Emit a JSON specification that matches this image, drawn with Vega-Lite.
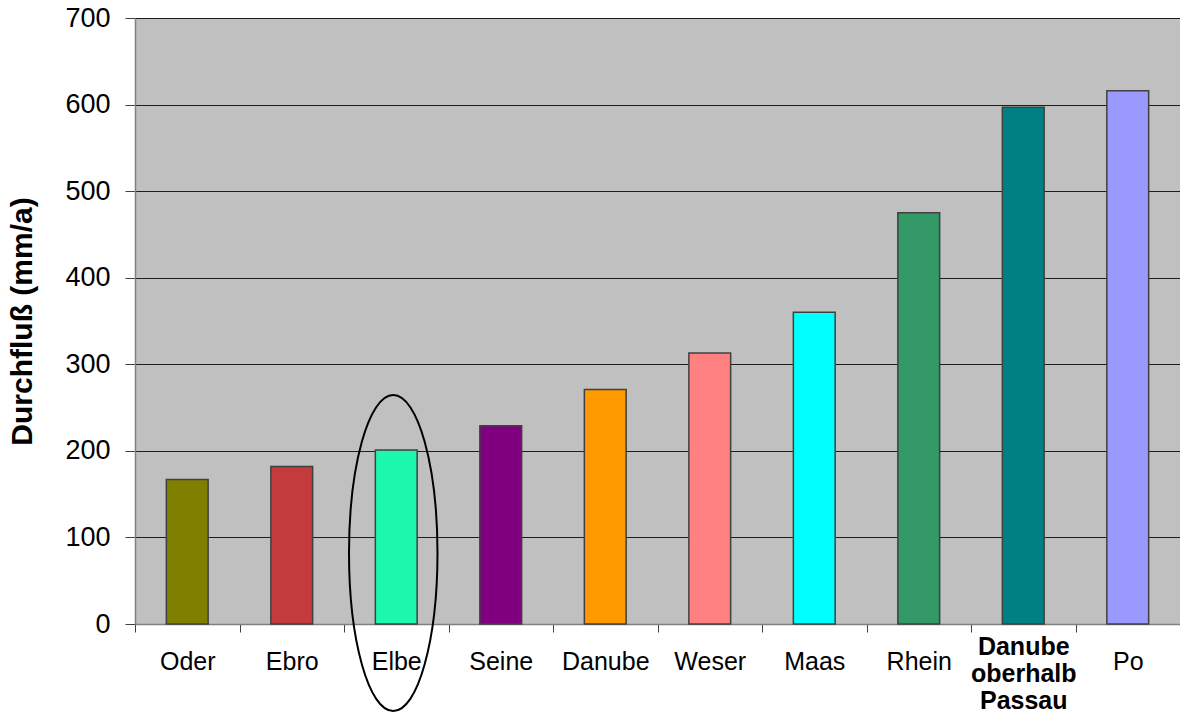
{
  "$schema": "https://vega.github.io/schema/vega-lite/v6.json",
  "width": 1045,
  "height": 606,
  "autosize": {"type": "none"},
  "padding": {"left": 135, "top": 18, "right": 0, "bottom": 96},
  "background": "#ffffff",
  "config": {
    "view": {"fill": "#c0c0c0", "stroke": null},
    "font": "Arial, Liberation Sans, sans-serif"
  },
  "datasets": {
    "rivers": [
      {"river": "Oder", "flow": 167, "colour": "#808000"},
      {"river": "Ebro", "flow": 182, "colour": "#c33b3c"},
      {"river": "Elbe", "flow": 201, "colour": "#1cf8ad"},
      {"river": "Seine", "flow": 229, "colour": "#800080"},
      {"river": "Danube", "flow": 271, "colour": "#ff9900"},
      {"river": "Weser", "flow": 313, "colour": "#ff8080"},
      {"river": "Maas", "flow": 360, "colour": "#00ffff"},
      {"river": "Rhein", "flow": 475, "colour": "#339966"},
      {"river": "Danube oberhalb Passau", "flow": 597, "colour": "#008080"},
      {"river": "Po", "flow": 616, "colour": "#9999ff"}
    ],
    "highlight": [
      {"river": "Elbe", "centre": 82}
    ]
  },
  "layer": [
    {
      "data": {"name": "rivers"},
      "mark": {"type": "bar", "width": {"band": 0.4}, "stroke": "#404040", "strokeWidth": 1.5},
      "encoding": {
        "x": {
          "field": "river",
          "type": "nominal",
          "scale": {
            "domain": ["Oder", "Ebro", "Elbe", "Seine", "Danube", "Weser", "Maas", "Rhein", "Danube oberhalb Passau", "Po"],
            "paddingInner": 0,
            "paddingOuter": 0
          },
          "axis": {
            "title": null,
            "labelAngle": 0,
            "labelFontSize": 25,
            "labelColor": "#000000",
            "labelPadding": {"condition": {"test": "datum.value == 'Danube oberhalb Passau'", "value": 2}, "value": 17},
            "labelLineHeight": 27,
            "labelBaseline": "top",
            "labelExpr": "datum.value == 'Danube oberhalb Passau' ? ['Danube', 'oberhalb', 'Passau'] : datum.value",
            "labelFontWeight": {"condition": {"test": "datum.value == 'Danube oberhalb Passau'", "value": "bold"}, "value": "normal"},
            "tickBand": "extent",
            "tickSize": 8,
            "tickColor": "#404040",
            "domainColor": "#808080",
            "domainWidth": 1.5,
            "grid": false
          }
        },
        "y": {
          "field": "flow",
          "type": "quantitative",
          "scale": {"domain": [0, 700], "nice": false},
          "axis": {
            "title": "Durchfluß (mm/a)",
            "titleFontSize": 30,
            "titleFontWeight": "bold",
            "titleColor": "#000000",
            "titlePadding": 27,
            "values": [0, 100, 200, 300, 400, 500, 600, 700],
            "labelFontSize": 27,
            "labelColor": "#000000",
            "labelPadding": 15,
            "tickSize": 10,
            "tickColor": "#404040",
            "domainColor": "#808080",
            "domainWidth": 1.5,
            "gridColor": "#000000",
            "gridOpacity": 0.85,
            "gridWidth": 1
          }
        },
        "fill": {"field": "colour", "type": "nominal", "scale": null}
      }
    },
    {
      "data": {"name": "highlight"},
      "mark": {
        "type": "point",
        "shape": "M -0.28 0 A 0.28 1 0 1 0 0.28 0 A 0.28 1 0 1 0 -0.28 0 Z",
        "size": 99856,
        "filled": false,
        "stroke": "#000000",
        "strokeWidth": 2,
        "opacity": 1,
        "xOffset": -3
      },
      "encoding": {
        "x": {"field": "river", "type": "nominal"},
        "y": {"field": "centre", "type": "quantitative"}
      }
    }
  ]
}
